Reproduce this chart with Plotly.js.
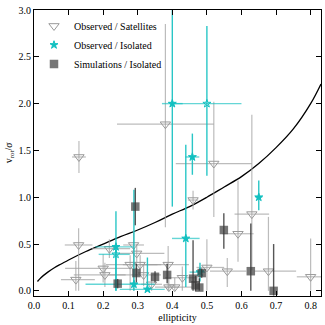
<!DOCTYPE html>
<html><head><meta charset="utf-8">
<script src="https://cdn.plot.ly/plotly-3.0.1.min.js"></script>
<style>html,body{margin:0;padding:0;background:#fff}#c{width:325px;height:325px}</style>
</head><body><div id="c"></div>
<script>
// Observed / Satellites
const satE    = [0.13, 0.38, 0.52, 0.46, 0.63, 0.59, 0.678, 0.80, 0.559, 0.50, 0.129, 0.121, 0.20, 0.205, 0.218, 0.288, 0.297, 0.278, 0.307, 0.317, 0.388, 0.429, 0.39, 0.407, 0.34];
const satV    = [1.43, 1.78, 1.36, 0.97, 0.82, 0.61, 0.21, 0.15, 0.21, 0.25, 0.49, 0.12, 0.24, 0.17, 0.45, 0.49, 0.40, 0.28, 0.28, 0.17, 0.28, 0.14, 0.04, 0.04, 0.07];
const satExLo = [0.02, 0.14, 0.11, 0.015, 0.05, 0.045, 0.04, 0.04, 0.05, 0.03, 0.04, 0.043, 0.11, 0.09, 0.05, 0.03, 0.05, 0.07, 0.05, 0.10, 0.08, 0.05, 0.04, 0.03, 0.03];
const satExHi = [0.02, 0.14, 0.11, 0.015, 0.05, 0.045, 0.08, 0.04, 0.055, 0.05, 0.04, 0.055, 0.10, 0.06, 0.06, 0.03, 0.08, 0.09, 0.05, 0.05, 0.06, 0.04, 0.03, 0.05, 0.03];
const satEyLo = [0.17, 1.10, 0.57, 0.10, 0.60, 0.30, 0.21, 0.15, 0.17, 0.25, 0.49, 0.12, 0.15, 0.13, 0.10, 0.49, 0.10, 0.28, 0.10, 0.12, 0.28, 0.14, 0.04, 0.04, 0.07];
const satEyHi = [0.17, 1.07, 0.66, 0.10, 1.06, 0.57, 0.58, 0.41, 0.14, 0.30, 0.18, 0.20, 0.15, 0.13, 0.10, 0.15, 0.10, 0.10, 0.10, 0.12, 0.20, 0.12, 0.08, 0.10, 0.10];

// Observed / Isolated
const isoE    = [0.40, 0.458, 0.65, 0.237, 0.289, 0.328, 0.439, 0.48, 0.50, 0.237];
const isoV    = [2.00, 1.43, 1.00, 0.47, 0.07, 0.016, 0.56, 0.20, 2.00, 0.39];
const isoExLo = [0.03, 0.02, 0.01, 0.06, 0.14, 0.08, 0.04, 0.03, 0.10, 0.05];
const isoExHi = [0.03, 0.02, 0.01, 0.05, 0.06, 0.05, 0.04, 0.015, 0.10, 0.04];
const isoEyLo = [1.10, 0.19, 0.14, 0.47, 0.07, 0.02, 0.52, 0.10, 0.77, 0.39];
const isoEyHi = [1.20, 0.25, 0.18, 0.38, 1.01, 0.34, 1.00, 0.10, 0.83, 0.10];
const isoSym  = ['star','star','star','star','star','star','star','star','star-open','star-open'];

// Simulations / Isolated
const simE    = [0.293, 0.296, 0.242, 0.35, 0.385, 0.46, 0.467, 0.478, 0.485, 0.549, 0.627, 0.693];
const simV    = [0.90, 0.19, 0.077, 0.15, 0.17, 0.13, 0.06, 0.035, 0.19, 0.65, 0.21, 0.00];
const simEyLo = [0.20, 0.10, 0.05, 0.06, 0.09, 0.13, 0.06, 0.035, 0.05, 0.20, 0.21, 0.05];
const simEyHi = [0.20, 0.10, 0.05, 0.06, 0.12, 0.41, 0.10, 0.10, 0.05, 0.18, 0.51, 0.50];

// isotropic rotator curve
const curveE = [0.01, 0.02, 0.04, 0.06, 0.08, 0.10, 0.15, 0.20, 0.25, 0.30, 0.35, 0.40, 0.45, 0.50, 0.55, 0.60, 0.65, 0.70, 0.75, 0.80, 0.83];
const curveV = [0.10, 0.14, 0.20, 0.25, 0.29, 0.33, 0.42, 0.50, 0.58, 0.65, 0.73, 0.82, 0.90, 1.00, 1.11, 1.22, 1.36, 1.53, 1.73, 2.00, 2.21];

const F = 'Liberation Serif, DejaVu Serif, serif';
const traces = [
  {x: curveE, y: curveV, mode: 'lines', line: {color: '#000', width: 1.3, shape: 'spline'}, showlegend: false, hoverinfo: 'skip'},
  {x: satE, y: satV, mode: 'markers', name: 'Observed / Satellites',
   marker: {symbol: 'triangle-down-open', size: 9, color: '#9a9a9a', line: {width: 1, color: '#9a9a9a'}},
   error_x: {type: 'data', array: satExHi, arrayminus: satExLo, color: 'rgba(160,160,160,0.7)', thickness: 1.2, width: 0},
   error_y: {type: 'data', array: satEyHi, arrayminus: satEyLo, color: 'rgba(160,160,160,0.7)', thickness: 1.2, width: 0}},
  {x: isoE, y: isoV, mode: 'markers', name: 'Observed / Isolated',
   marker: {symbol: isoSym, size: 6, color: '#12c0c0', line: {width: 1, color: '#12c0c0'}},
   error_x: {type: 'data', array: isoExHi, arrayminus: isoExLo, color: 'rgba(18,192,192,0.65)', thickness: 1.4, width: 0},
   error_y: {type: 'data', array: isoEyHi, arrayminus: isoEyLo, color: 'rgba(18,192,192,0.9)', thickness: 1.4, width: 0}},
  {x: simE, y: simV, mode: 'markers', name: 'Simulations / Isolated',
   marker: {symbol: 'square', size: 8.5, color: 'rgba(60,60,60,0.7)', line: {width: 0}},
   error_y: {type: 'data', array: simEyHi, arrayminus: simEyLo, color: 'rgba(30,30,30,0.75)', thickness: 1.4, width: 0}}
];
const layout = {
  width: 325, height: 325,
  margin: {l: 34, r: 4, t: 10, b: 29},
  paper_bgcolor: '#fff', plot_bgcolor: '#fff',
  font: {family: F, size: 10, color: '#000'},
  showlegend: true,
  legend: {x: 0.0, y: 0.995, xanchor: 'left', yanchor: 'top', bgcolor: 'rgba(0,0,0,0)', font: {family: F, size: 10}, tracegroupgap: 0, itemwidth: 30},
  xaxis: {range: [0, 0.83], dtick: 0.1, tick0: 0, tickformat: '.1f', ticks: 'inside', ticklen: 5, tickcolor: '#000',
          showline: true, linecolor: '#000', linewidth: 1, mirror: 'ticks', showgrid: false, zeroline: false,
          title: {text: 'ellipticity', font: {family: F, size: 10}, standoff: 3}, tickfont: {family: F, size: 10}},
  yaxis: {range: [-0.055, 3.0], dtick: 0.5, tick0: 0, tickformat: '.1f', ticks: 'inside', ticklen: 5, tickcolor: '#000',
          showline: true, linecolor: '#000', linewidth: 1, mirror: 'ticks', showgrid: false, zeroline: false,
          title: {text: 'v<sub>rot</sub>/<i>σ</i>', font: {family: F, size: 10}, standoff: 4}, tickfont: {family: F, size: 10}}
};
Plotly.newPlot('c', traces, layout, {displayModeBar: false, staticPlot: true});
</script></body></html>
